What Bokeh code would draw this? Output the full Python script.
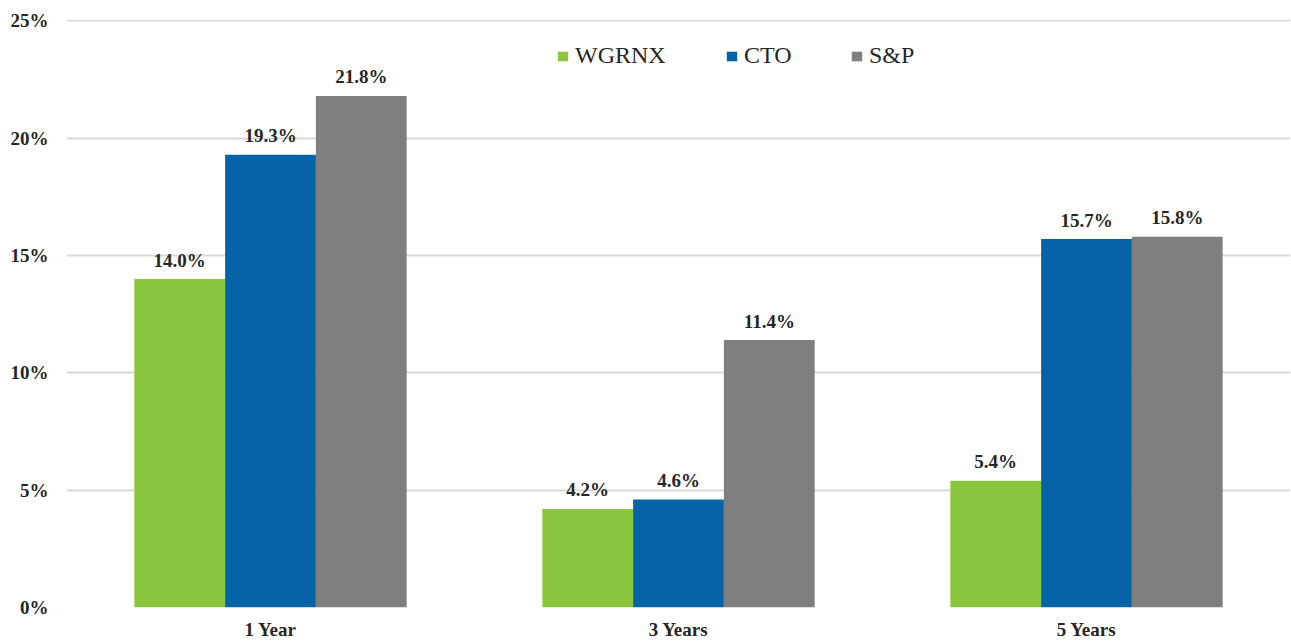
from bokeh.plotting import figure
from bokeh.models import ColumnDataSource, Legend, LegendItem, PrintfTickFormatter, FixedTicker
from bokeh.transform import dodge
from bokeh.core.properties import value
from bokeh.embed import file_html
from bokeh.resources import INLINE

categories = ["1 Year", "3 Years", "5 Years"]
series_names = ["WGRNX", "CTO", "S&P"]
wgrnx = [14.0, 4.2, 5.4]
cto = [19.3, 4.6, 15.7]
sp = [21.8, 11.4, 15.8]
y_ticks = [0, 5, 10, 15, 20, 25]
colors = ["#8cc63f", "#0563a8", "#7f7f7f"]

FONT = "Liberation Serif"

src = ColumnDataSource(dict(
    cat=categories, WGRNX=wgrnx, CTO=cto, SP=sp,
    WGRNX_l=[f"{v:.1f}%" for v in wgrnx],
    CTO_l=[f"{v:.1f}%" for v in cto],
    SP_l=[f"{v:.1f}%" for v in sp],
))

p = figure(x_range=categories, y_range=(0, 25.06), width=1290, height=642,
           output_backend="svg", toolbar_location=None,
           min_border_left=66, min_border_right=0, min_border_top=19, min_border_bottom=34)
p.x_range.range_padding = 0
p.outline_line_color = None
p.background_fill_color = "white"
p.border_fill_color = "white"

cols = ["WGRNX", "CTO", "SP"]
offsets = [-0.2225, 0.0, 0.2225]
renderers = []
for c, off, col in zip(cols, offsets, colors):
    r = p.vbar(x=dodge("cat", off, range=p.x_range), top=c, width=0.2225, bottom=0,
               source=src, fill_color=col, line_color=None)
    renderers.append(r)
    p.text(x=dodge("cat", off, range=p.x_range), y=c, text=c + "_l", source=src,
           text_align="center", text_baseline="alphabetic", y_offset=-19,
           text_font=value(FONT), text_font_style="bold", text_font_size="19px",
           text_color="#262626")

# axes
p.yaxis.ticker = FixedTicker(ticks=y_ticks)
p.yaxis.formatter = PrintfTickFormatter(format="%d%%")
for ax in (p.xaxis, p.yaxis):
    ax.axis_line_color = None
    ax.major_tick_line_color = None
    ax.minor_tick_line_color = None
    ax.major_label_text_font = FONT
    ax.major_label_text_font_style = "bold"
    ax.major_label_text_font_size = "19px"
    ax.major_label_text_color = "#262626"
p.yaxis.major_label_standoff = 12
p.xaxis.major_label_standoff = 5
p.xgrid.grid_line_color = None
p.ygrid.grid_line_color = "#d9d9d9"
p.ygrid.grid_line_width = 2

# legends (individually positioned)
leg_x = [490, 659, 784]
for name, r, lx in zip(series_names, renderers, leg_x):
    lg = Legend(items=[LegendItem(label=name, renderers=[r])], location=(lx, 538),
                orientation="horizontal", padding=0, margin=0, spacing=0,
                glyph_width=13, glyph_height=12, label_standoff=6,
                label_text_font=FONT, label_text_font_size="24px",
                label_text_color="#262626",
                border_line_color=None, background_fill_alpha=0)
    p.add_layout(lg, "center")

open("out.html", "w").write(file_html(p, INLINE))
